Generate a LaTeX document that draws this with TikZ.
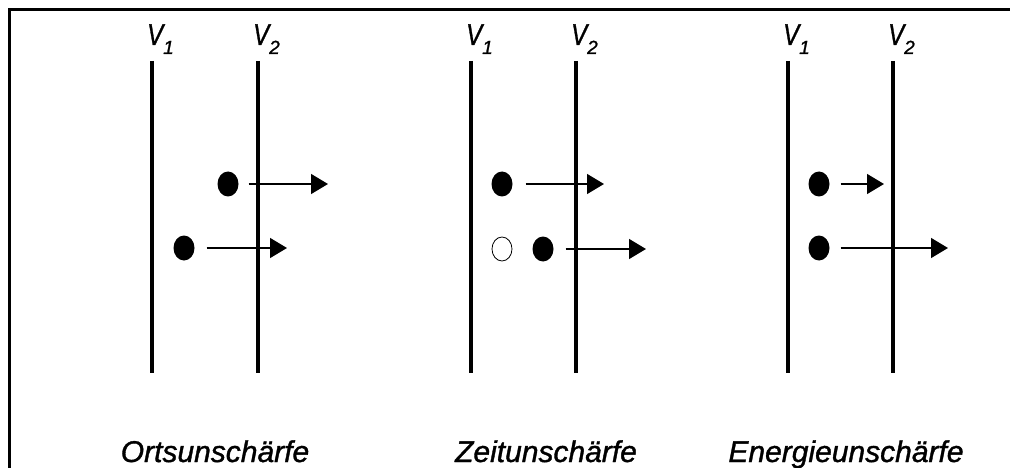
\documentclass[tikz,border=0pt]{standalone}
\usepackage{fontspec}
\setmainfont{Liberation Sans}
\newfontfamily\heavyfont[FakeBold=1.2]{Liberation Sans}
\usetikzlibrary{arrows.meta,shapes.geometric}
\begin{document}
\begin{tikzpicture}[x=1pt,y=-1pt,
  plate/.style={line width=4.5pt},
  frameline/.style={line width=3pt},
  dot/.style={ellipse,fill=black,minimum width=21pt,minimum height=25pt,inner sep=0pt},
  hollow/.style={ellipse,draw=black,line width=0.8pt,fill=white,minimum width=20pt,minimum height=24pt,inner sep=0pt},
  arr/.style={line width=1.3pt,-{Triangle[length=17pt,width=20pt]}},
  vlab/.style={anchor=base west,inner sep=0pt,font=\heavyfont\fontsize{30}{30}\selectfont\itshape},
  captext/.style={anchor=base,inner sep=0pt,font=\heavyfont\fontsize{30}{36}\selectfont\itshape}
]
\useasboundingbox (0,0) rectangle (1010,468);
\fill[white] (0,0) rectangle (1010,468);
\draw[frameline] (1010,10) -- (9.5,10) -- (9.5,468);
\newcommand{\vlabel}[1]{\scalebox{0.8}[1]{V}\raisebox{-9pt}{\fontsize{19}{19}\selectfont #1}}
% panel 1
\draw[plate] (152,61) coordinate (p1a) -- (152,373) coordinate (p1b);
\draw[plate] (258,61) coordinate (p2a) -- (258,373) coordinate (p2b);
\node[vlab] (l1) at (147,45) {\vlabel{1}};
\node[vlab] (l2) at (253,45) {\vlabel{2}};
\node[dot] (a) at (228,184) {};
\node[dot] (b) at (184,248) {};
\coordinate (at) at (328,184);
\coordinate (bt) at (287,248);
\draw[arr] ([xshift=10pt]a.east) -- (at);
\draw[arr] ([xshift=12pt]b.east) -- (bt);
\node[captext] (c1) at (215,462) {Ortsunschärfe};
% panel 2
\draw[plate] (471,61) coordinate (q1a) -- (471,373) coordinate (q1b);
\draw[plate] (576,61) coordinate (q2a) -- (576,373) coordinate (q2b);
\node[vlab] (m1) at (466,45) {\vlabel{1}};
\node[vlab] (m2) at (571,45) {\vlabel{2}};
\node[dot] (c) at (502,184) {};
\node[hollow] (d) at (502,249) {};
\node[dot] (e) at (543,249) {};
\coordinate (ct) at (604,184);
\coordinate (et) at (646,249);
\draw[arr] ([xshift=13pt]c.east) -- (ct);
\draw[arr] ([xshift=12pt]e.east) -- (et);
\node[captext] (c2) at (546,462) {Zeitunschärfe};
% panel 3
\draw[plate] (788,61) coordinate (r1a) -- (788,373) coordinate (r1b);
\draw[plate] (893,61) coordinate (r2a) -- (893,373) coordinate (r2b);
\node[vlab] (n1) at (783,45) {\vlabel{1}};
\node[vlab] (n2) at (888,45) {\vlabel{2}};
\node[dot] (f) at (819,184) {};
\node[dot] (g) at (819,248) {};
\coordinate (ft) at (884,184);
\coordinate (gt) at (948,248);
\draw[arr] ([xshift=11pt]f.east) -- (ft);
\draw[arr] ([xshift=11pt]g.east) -- (gt);
\node[captext] (c3) at (846,462) {Energieunschärfe};
\end{tikzpicture}
\end{document}
